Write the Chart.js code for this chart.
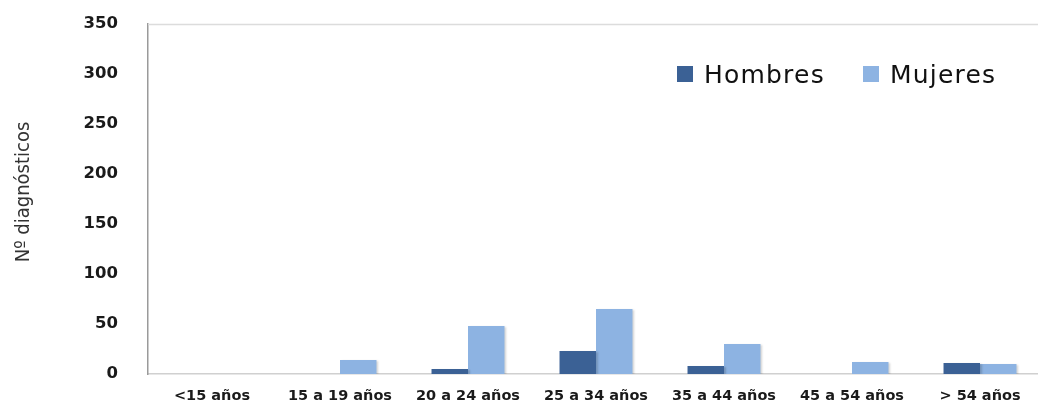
<!DOCTYPE html>
<html>
<head>
<meta charset="utf-8">
<script src="https://cdn.jsdelivr.net/npm/chart.js@4/dist/chart.umd.min.js"></script>
<style>
    html, body { margin: 0; padding: 0; background: #fff; overflow: hidden; }
    .wrap { position: relative; width: 1046px; height: 403px; }
    .legend {
        position: absolute; top: 59px; left: 677px;
        font-family: "DejaVu Sans", sans-serif; font-size: 25px; letter-spacing: 1.2px;
        color: #111; white-space: nowrap;
    }
    .legend span.item { display: inline-flex; align-items: center; margin-right: 29px; }
    .legend i { display: inline-block; width: 16px; height: 16px; margin-right: 11px; }
</style>
</head>
<body>
<div class="wrap">
    <canvas id="chart" width="1046" height="403"></canvas>
    <div class="legend" id="legend"></div>
</div>
<script>
const AGE_GROUPS = ['<15 años', '15 a 19 años', '20 a 24 años', '25 a 34 años', '35 a 44 años', '45 a 54 años', '> 54 años'];
const HOMBRES    = [0, 0, 5, 23, 8, 0, 11];
const MUJERES    = [0, 14, 48, 65, 30, 12, 10];
const Y_TICKS    = [0, 50, 100, 150, 200, 250, 300, 350];

const COLORS = { hombres: '#3b6195', mujeres: '#8db3e2' };

// scales keep no extra room for their labels; the layout padding sets the plot box
const noPad = s => { s.paddingTop = s.paddingBottom = s.paddingLeft = s.paddingRight = 0; };

// soft shadow under the bars, a light frame line on top of the plot,
// and the axis title placed by hand
const extras = {
    id: 'extras',
    beforeDatasetsDraw(chart) {
        const c = chart.ctx;
        c.save();
        c.shadowColor = 'rgba(0,0,0,0.18)';
        c.shadowBlur = 2;
        c.shadowOffsetX = 2;
        c.shadowOffsetY = 1;
    },
    afterDatasetsDraw(chart) { chart.ctx.restore(); },
    afterDraw(chart) {
        const { ctx: c, chartArea: a } = chart;
        c.save();
        c.strokeStyle = '#dcdcdc';
        c.lineWidth = 1.5;
        c.beginPath();
        c.moveTo(a.left, a.top + 0.5);
        c.lineTo(a.right, a.top + 0.5);
        c.stroke();

        c.translate(24, 192);
        c.rotate(-Math.PI / 2);
        c.fillStyle = '#333';
        c.font = '20px "DejaVu Sans Condensed", "DejaVu Sans", sans-serif';
        c.textAlign = 'center';
        c.textBaseline = 'middle';
        c.fillText('Nº diagnósticos', 0, 0);
        c.restore();
    }
};

const chart = new Chart(document.getElementById('chart').getContext('2d'), {
    type: 'bar',
    data: {
        labels: AGE_GROUPS,
        datasets: [
            { label: 'Hombres', data: HOMBRES, backgroundColor: COLORS.hombres },
            { label: 'Mujeres', data: MUJERES, backgroundColor: COLORS.mujeres },
        ],
    },
    options: {
        responsive: false,
        animation: false,
        categoryPercentage: 0.57,
        barPercentage: 1.0,
        layout: { autoPadding: false, padding: { top: 24, right: 2, left: 0, bottom: 0 } },
        plugins: { legend: { display: false }, tooltip: { enabled: false } },
        scales: {
            x: {
                grid: { display: false },
                border: { display: true, color: '#d0d0d0', width: 1.5 },
                ticks: {
                    color: '#1a1a1a', padding: 6, maxRotation: 0,
                    font: { family: '"DejaVu Sans", sans-serif', size: 14.5, weight: 'bold' },
                },
                afterFit: s => { s.height = 29; noPad(s); },
            },
            y: {
                min: 0, max: 350,
                afterBuildTicks: s => { s.ticks = Y_TICKS.map(v => ({ value: v })); },
                grid: { display: false },
                border: { display: true, color: '#9a9a9a', width: 1.5 },
                ticks: {
                    color: '#1a1a1a', padding: 22,
                    font: { family: '"DejaVu Sans", sans-serif', size: 16.5, weight: 'bold' },
                },
                afterFit: s => { s.width = 148; noPad(s); },
            },
        },
    },
    plugins: [extras],
});

document.getElementById('legend').innerHTML = chart.data.datasets.map(d => `
    <span class="item"><i style="background:${d.backgroundColor}"></i>${d.label}</span>`).join('');
</script>
</body>
</html>
